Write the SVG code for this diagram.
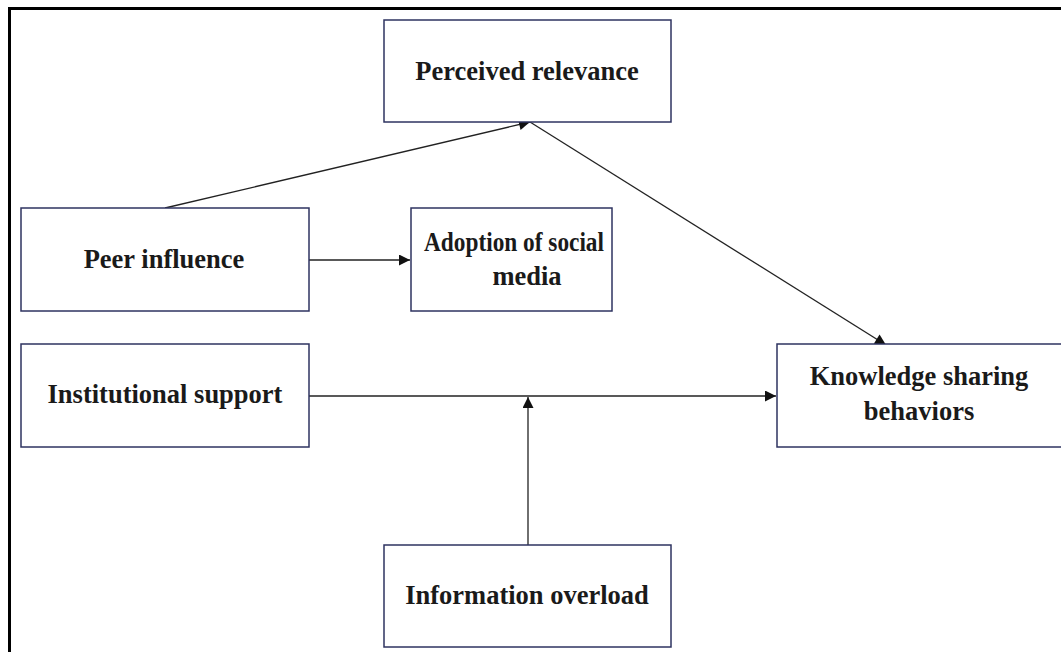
<svg xmlns="http://www.w3.org/2000/svg" width="1061" height="652" viewBox="0 0 1061 652">
<style>
.box{fill:#fff;stroke:#2e3360;stroke-width:1.5}
.t{font-family:"Liberation Serif","Times New Roman",serif;font-weight:bold;font-size:26.5px;fill:#1a1a1a;text-anchor:middle}
.c{stroke:#222;stroke-width:1.3;fill:none;marker-end:url(#ah)}
</style>
<defs>
<marker id="ah" viewBox="0 0 10 10" refX="10" refY="5" markerWidth="12" markerHeight="11" markerUnits="userSpaceOnUse" orient="auto">
<path d="M0,0 L10,5 L0,10 Z" fill="#111"/>
</marker>
</defs>
<rect width="1061" height="652" fill="#fff"/>
<g id="frame">
<path d="M9.5,652 L9.5,8.5 L1061,8.5" fill="none" stroke="#000" stroke-width="3"/>
</g>
<g id="connectors">
<path class="c" d="M165,208 L530,122"/>
<path class="c" d="M530,122 L886,345"/>
<path class="c" d="M309,260 L410,260"/>
<path class="c" d="M309,396 L776,396"/>
<path class="c" d="M528,545 L528,397"/>
</g>
<g id="perceived-relevance">
<rect class="box" x="384" y="20" width="287" height="102"/>
<text class="t" x="527" y="80">Perceived relevance</text>
</g>
<g id="peer-influence">
<rect class="box" x="21" y="208" width="288" height="103"/>
<text class="t" x="164" y="268">Peer influence</text>
</g>
<g id="adoption-of-social-media">
<rect class="box" x="411" y="208" width="201" height="103"/>
<text class="t" x="514" y="251" textLength="180" lengthAdjust="spacingAndGlyphs">Adoption of social</text>
<text class="t" x="527" y="285">media</text>
</g>
<g id="institutional-support">
<rect class="box" x="21" y="344" width="288" height="103"/>
<text class="t" x="165" y="403">Institutional support</text>
</g>
<g id="knowledge-sharing-behaviors">
<rect class="box" x="777" y="344" width="300" height="103"/>
<text class="t" x="919" y="385">Knowledge sharing</text>
<text class="t" x="919" y="420">behaviors</text>
</g>
<g id="information-overload">
<rect class="box" x="384" y="545" width="287" height="102"/>
<text class="t" x="527" y="604">Information overload</text>
</g>
</svg>
